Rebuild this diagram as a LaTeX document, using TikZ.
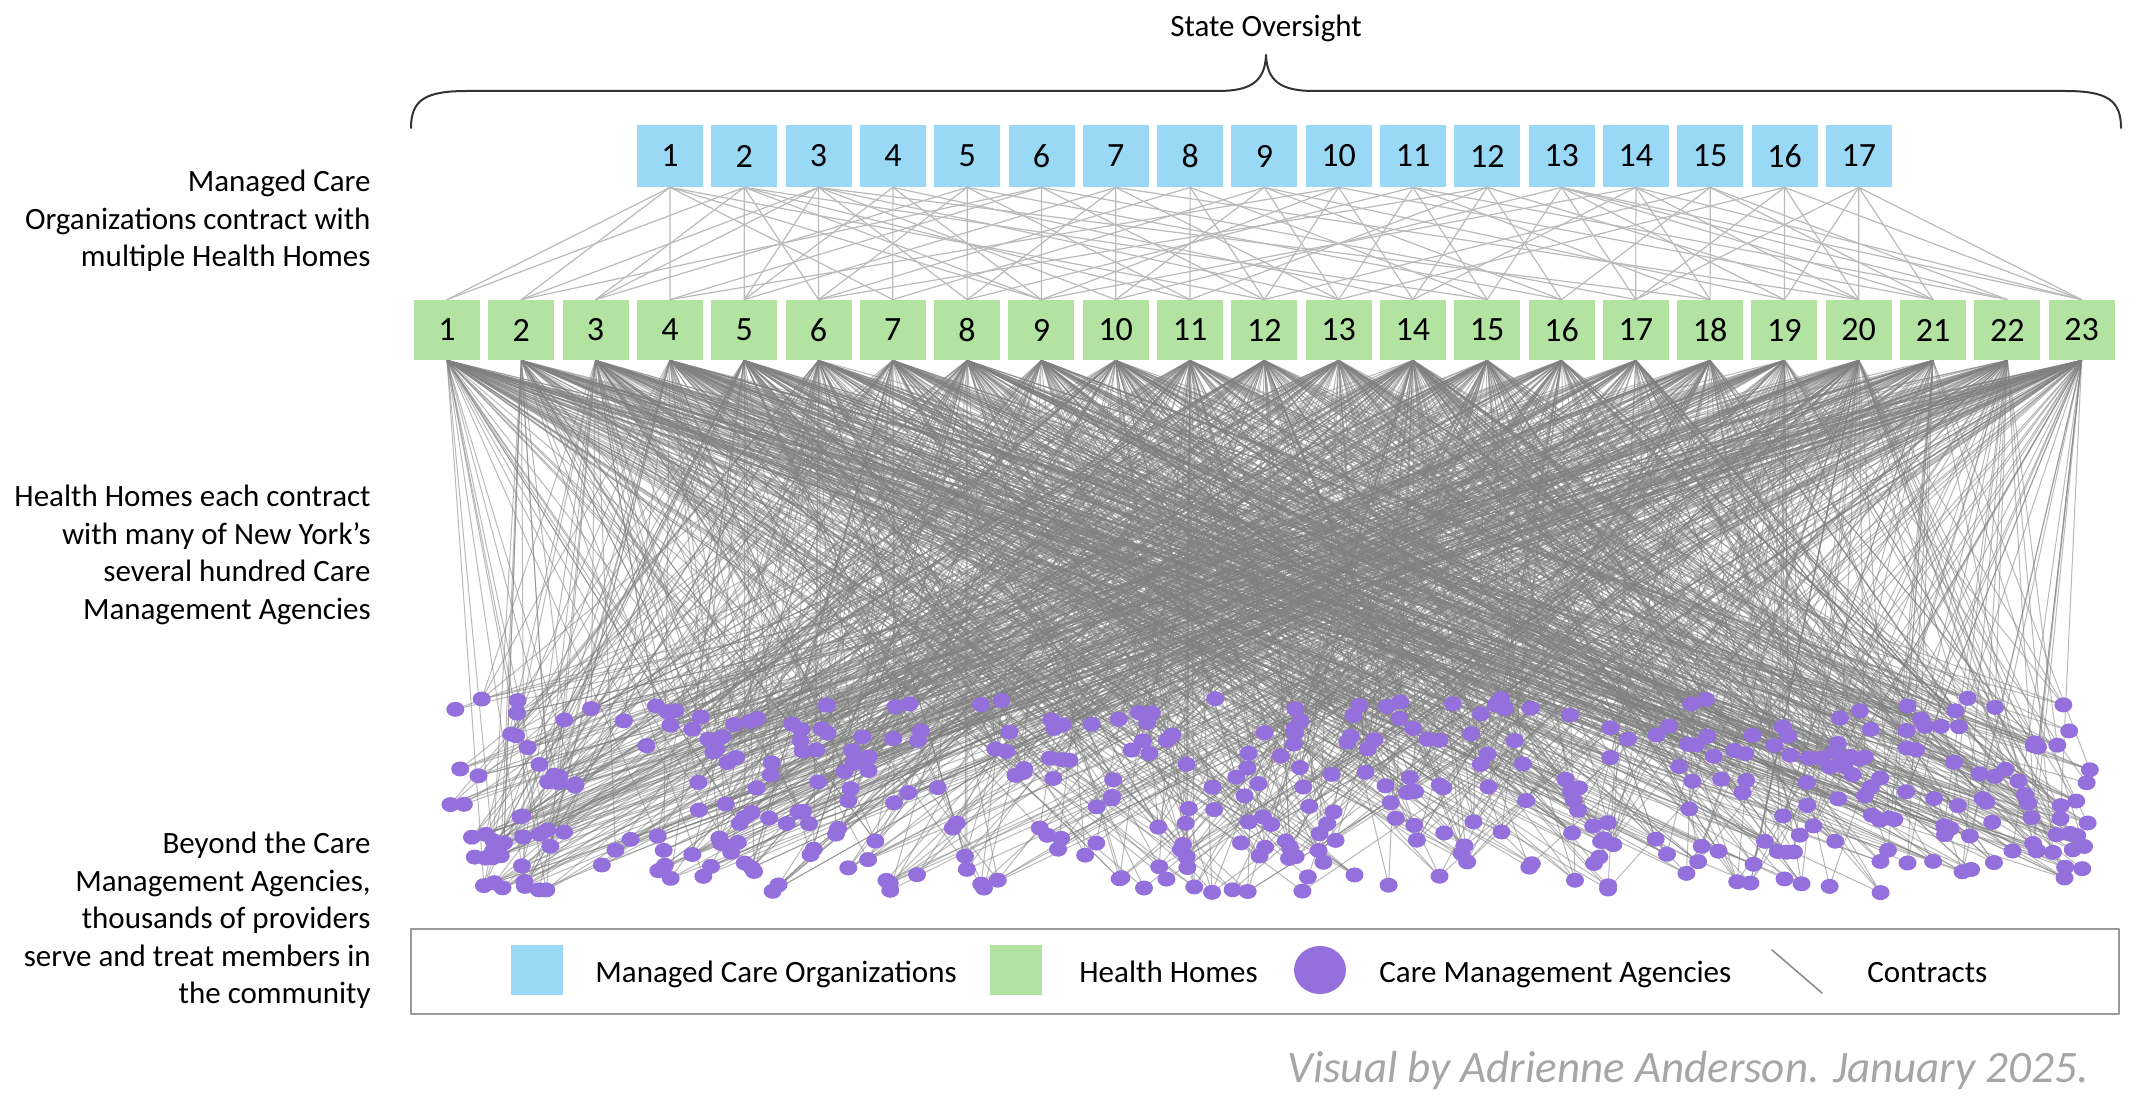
\documentclass[tikz,border=0pt]{standalone}
\usepackage{fontspec}
\setmainfont{Carlito}
\usepackage{tikz}
\usetikzlibrary{shapes.geometric}
\pgfdeclarelayer{back}
\pgfsetlayers{back,main}

\definecolor{mcoblue}{HTML}{99D9F5}
\definecolor{hhgreen}{HTML}{B3E3A1}
\definecolor{cmapurple}{HTML}{9370DB}
\definecolor{linegray}{HTML}{7F7F7F}
\definecolor{creditgray}{HTML}{A6A6A6}

\tikzset{
	mco/.style={rectangle, fill=mcoblue, minimum width=33pt, minimum height=31pt, inner sep=0pt, font=\fontsize{17}{20}\selectfont},
	hh/.style={rectangle, fill=hhgreen, minimum width=33pt, minimum height=30pt, inner sep=0pt, font=\fontsize{17}{20}\selectfont},
	cma/.style={ellipse, fill=cmapurple, minimum width=9pt, minimum height=7.5pt, inner sep=0pt},
	mcoline/.style={draw=black!27, line width=0.6pt},
	hhline/.style={draw=linegray, line width=0.5pt, opacity=0.55},
	sidetext/.style={align=right, anchor=north east, inner sep=0pt, font=\fontsize{15.5}{18.75}\selectfont},
	legtext/.style={anchor=base west, inner sep=0pt, font=\fontsize{15.5}{18.75}\selectfont},
}

\begin{document}
\begin{tikzpicture}[x=0.5pt, y=-0.5pt, line cap=round, line join=round]
	\useasboundingbox (0,0) rectangle (2145,1107);
	
	% State oversight brace
	\node[anchor=base, inner sep=0pt, font=\fontsize{15.5}{18.75}\selectfont] (oversight) at (1266,37) {State Oversight};
	\draw[line width=1pt, black!80] (411,128) .. controls (411,100) and (425,91) .. (467,91) -- (1218,91)
		.. controls (1250,91) and (1265,82) .. (1266,55) .. controls (1267,82) and (1282,91) .. (1314,91)
		-- (2065,91) .. controls (2107,91) and (2121,100) .. (2121,128);
	
	% Managed Care Organizations
	\foreach \j in {1,...,17}
		\node[mco] (m\j) at ({670+(\j-1)*74.3},156) {\j};
	
	% Health Homes
	\foreach \i in {1,...,23}
		\node[hh] (h\i) at ({447+(\i-1)*74.3},330) {\i};
	
	% MCO -- HH contracts
	\foreach \a/\bs in {1/{1,2,4,7,9,12}, 2/{1,3,5,6,9,11,15}, 3/{2,3,5,6,8,10,13,18},
		4/{5,7,9,14}, 5/{3,6,8,11,16}, 6/{2,4,9,12,17}, 7/{5,8,10,13,20},
		8/{6,11,12,15}, 9/{7,10,13,16,19}, 10/{4,9,12,14,21}, 11/{8,13,15,18,22},
		12/{6,11,14,16,20}, 13/{10,15,17,19,21,22,23}, 14/{9,14,17,18,20,23},
		15/{12,16,18,21,22}, 16/{13,17,19,20,23}, 17/{17,19,20,21,23}}
		{\foreach \b in \bs
			\draw[mcoline] (m\a.south) -- (h\b.north);}
	
	% Care Management Agencies, scattered
	\pgfmathsetseed{2025}
	\foreach \i in {1,...,420}{
		\pgfmathsetmacro{\cx}{442+1655*rnd}
		\pgfmathsetmacro{\cy}{698+195*rnd}
		\node[cma] (c\i) at (\cx,\cy) {};
	}
	
	% HH -- CMA contracts (behind everything)
	\begin{pgfonlayer}{back}
		\foreach \i in {1,...,420}{
			\pgfmathtruncatemacro{\k}{2+int(5.99*rnd)}
			\foreach \n in {1,...,\k}{
				\pgfmathtruncatemacro{\h}{min(23,1+int(23*rnd))}
				\draw[hhline] (h\h.south) -- (c\i.center);
			}
		}
	\end{pgfonlayer}
	
	% Side notes
	\node[sidetext] (mcotext) at (371,170) {Managed Care\\Organizations contract with\\multiple Health Homes};
	\node[sidetext] (hhtext) at (371,485) {Health Homes each contract\\with many of New York’s\\several hundred Care\\Management Agencies};
	\node[sidetext] (cmatext) at (371,832) {Beyond the Care\\Management Agencies,\\thousands of providers\\serve and treat members in\\the community};
	
	% Legend
	\node[draw=black!40, line width=1.2pt, minimum width=854pt, minimum height=42.5pt, inner sep=0pt] (legend) at (1265,971.5) {};
	\node[rectangle, fill=mcoblue, minimum width=26pt, minimum height=25pt, inner sep=0pt] (legmco) at (537,970) {};
	\node[legtext] (legmcotext) at (595,982) {Managed Care Organizations};
	\node[rectangle, fill=hhgreen, minimum width=26pt, minimum height=25pt, inner sep=0pt] (leghh) at (1016,970) {};
	\node[legtext] (leghhtext) at (1079,982) {Health Homes};
	\node[ellipse, fill=cmapurple, minimum width=26pt, minimum height=24pt, inner sep=0pt] (legcma) at (1320,970) {};
	\node[legtext] (legcmatext) at (1379,982) {Care Management Agencies};
	\coordinate (k1) at (1772,950);
	\coordinate (k2) at (1822,993);
	\draw[black!45, line width=0.8pt] (k1) -- (k2);
	\node[legtext] (legktext) at (1867,982) {Contracts};
	
	% Credit
	\node[anchor=base east, inner sep=0pt, text=creditgray, font=\fontsize{22.5}{26}\selectfont\itshape] (credit) at (2089,1082) {Visual by Adrienne Anderson. January 2025.};
	
\end{tikzpicture}
\end{document}
